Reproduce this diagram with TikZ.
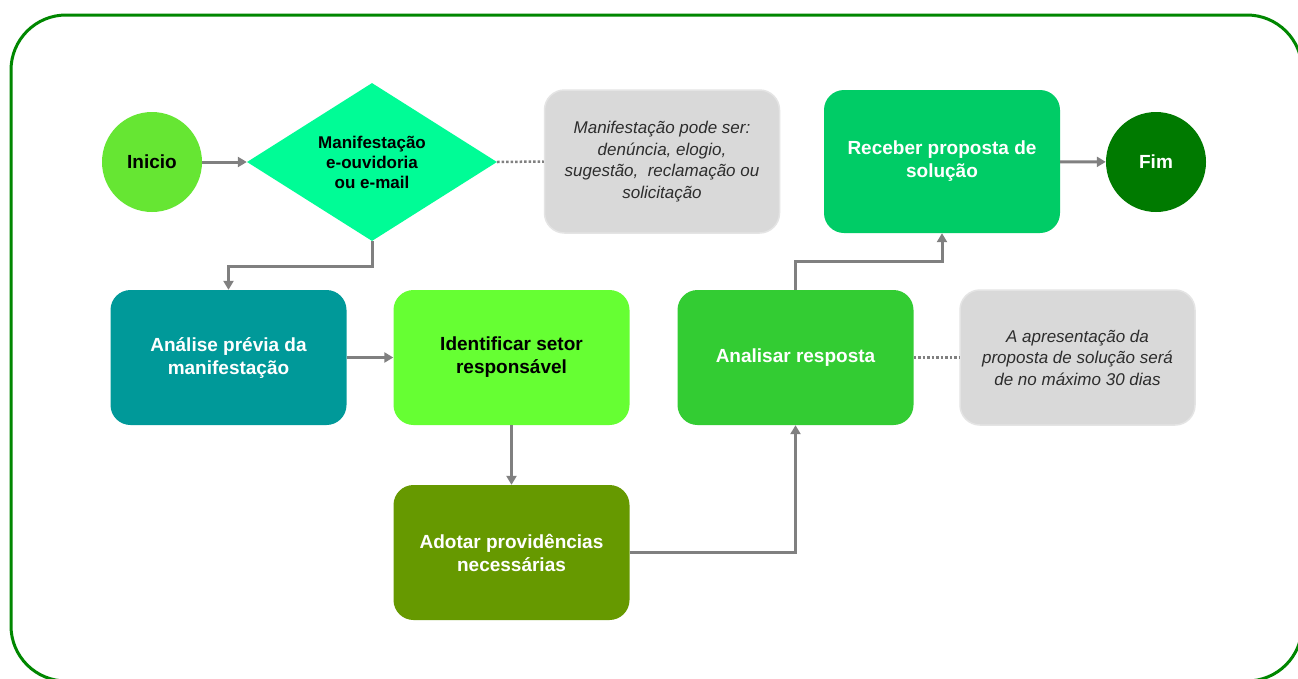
\documentclass[tikz,border=0pt]{standalone}
\usepackage{fontspec}
\setmainfont{Liberation Sans}
\usetikzlibrary{shapes.geometric,arrows.meta}

\definecolor{frameGreen}{RGB}{0,135,0}
\definecolor{startGreen}{RGB}{102,230,51}
\definecolor{springGreen}{RGB}{0,252,150}
\definecolor{tealBox}{RGB}{0,153,153}
\definecolor{limeBox}{RGB}{102,255,51}
\definecolor{oliveBox}{RGB}{102,153,0}
\definecolor{midGreen}{RGB}{51,204,51}
\definecolor{emerald}{RGB}{0,204,102}
\definecolor{endGreen}{RGB}{0,122,0}
\definecolor{noteFill}{RGB}{217,217,217}
\definecolor{noteEdge}{RGB}{228,228,228}
\definecolor{noteText}{RGB}{45,45,45}
\definecolor{connGray}{RGB}{128,128,128}

\tikzset{
  boldtxt/.style={font=\fontsize{19}{23}\selectfont\bfseries, align=center},
  stepbox/.style={rectangle, rounded corners=20pt, minimum width=236pt,
    minimum height=135pt, inner sep=0pt, boldtxt},
  notebox/.style={rectangle, rounded corners=20pt, minimum width=235pt,
    fill=noteFill, draw=noteEdge, line width=1.5pt, inner sep=0pt,
    font=\fontsize{17}{21.5}\selectfont\itshape, text=noteText, align=center},
  endpoint/.style={circle, minimum size=100pt, inner sep=0pt, boldtxt},
  flow/.style={draw=connGray, line width=3pt,
    -{Triangle[length=9pt,width=10pt]}},
  dotlink/.style={draw=connGray, line width=2.5pt, dotted}
}

\begin{document}
\begin{tikzpicture}[x=1pt,y=-1pt]
  \useasboundingbox (0,0) rectangle (1298,678);
  \fill[white] (0,0) rectangle (1298,678);

  % outer frame, running slightly past the right and bottom edges
  \draw[frameGreen, line width=3pt, rounded corners=55pt]
    (11,15) rectangle (1302,681);

  % top row
  \node[endpoint, fill=startGreen, text=black] (ini) at (152,162) {Inicio};
  \node[diamond, fill=springGreen, minimum width=250pt, minimum height=158pt,
        aspect=1.58, inner sep=0pt, align=center,
        font=\fontsize{17}{20}\selectfont\bfseries, text=black] (man) at (372,162)
        {Manifestação\\e-ouvidoria\\ou e-mail};
  \node[notebox, minimum height=143pt] (n1) at (662,161.5)
        {Manifestação pode ser:\\denúncia, elogio,\\sugestão,\ \ reclamação ou\\solicitação};
  \node[stepbox, minimum height=143pt, fill=emerald, text=white] (rec) at (942,161.5)
        {Receber proposta de\\solução};
  \node[endpoint, fill=endGreen, text=white] (fim) at (1156,162) {Fim};

  % middle row
  \node[stepbox, fill=tealBox, text=white] (ana) at (228.5,357.5)
        {Análise prévia da\\manifestação};
  \node[stepbox, fill=limeBox, text=black] (ide) at (511.5,357.5)
        {Identificar setor\\responsável};
  \node[stepbox, fill=midGreen, text=white] (res) at (795.5,357.5)
        {Analisar resposta};
  \node[notebox, minimum height=135pt] (n2) at (1077.5,357.5)
        {A apresentação da\\proposta de solução será\\de no máximo 30 dias};

  % bottom row
  \node[stepbox, fill=oliveBox, text=white] (ado) at (511.5,552.5)
        {Adotar providências\\necessárias};

  % connectors
  \draw[flow] (ini) -- (man);
  \draw[dotlink] (man.east) -- (n1.west);
  \draw[flow] (rec) -- (fim);
  \draw[flow] (man.south) -- ++(0,25) -| (ana.north);
  \draw[flow] (ana) -- (ide);
  \draw[flow] (ide) -- (ado);
  \draw[flow] (ado.east) -| (res.south);
  \draw[flow] (res.north) -- ++(0,-28) -| (rec.south);
  \draw[dotlink] (res.east) -- (n2.west);
\end{tikzpicture}
\end{document}
